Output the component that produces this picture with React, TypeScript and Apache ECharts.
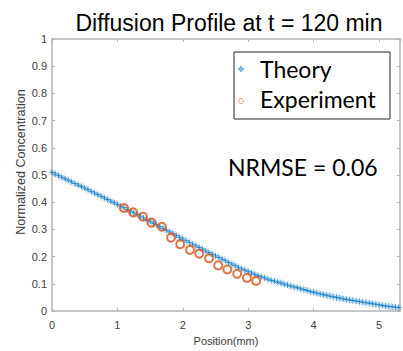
import React, { useEffect, useRef } from "react";
import * as echarts from "echarts";

const TITLE = "Diffusion Profile at t = 120 min";
const X_NAME = "Position(mm)";
const Y_NAME = "Normalized Concentration";
const NRMSE_TEXT = "NRMSE = 0.06";
const SERIES_NAMES = ["Theory", "Experiment"];

// theory curve, sampled every 0.05 mm from 0 to 5.30 mm
const THEORY_STEP = 0.05;
const theoryValues = [
  0.510, 0.504, 0.498, 0.492, 0.486, 0.481, 0.475, 0.469, 0.463, 0.458,
  0.452, 0.446, 0.440, 0.434, 0.428, 0.422, 0.416, 0.410, 0.404, 0.398,
  0.392, 0.386, 0.380, 0.373, 0.367, 0.361, 0.355, 0.349, 0.342, 0.336,
  0.330, 0.323, 0.317, 0.310, 0.304, 0.297, 0.291, 0.284, 0.278, 0.271,
  0.265, 0.259, 0.252, 0.246, 0.240, 0.234, 0.228, 0.221, 0.215, 0.209,
  0.203, 0.197, 0.191, 0.185, 0.179, 0.173, 0.167, 0.161, 0.155, 0.150,
  0.145, 0.140, 0.135, 0.130, 0.126, 0.122, 0.117, 0.113, 0.110, 0.106,
  0.103, 0.099, 0.096, 0.092, 0.089, 0.086, 0.082, 0.079, 0.076, 0.072,
  0.069, 0.066, 0.063, 0.060, 0.058, 0.055, 0.053, 0.050, 0.048, 0.045,
  0.043, 0.041, 0.039, 0.037, 0.035, 0.033, 0.031, 0.029, 0.027, 0.025,
  0.023, 0.021, 0.019, 0.017, 0.016, 0.014, 0.013,
];

const expX = [1.10, 1.24, 1.39, 1.52, 1.68, 1.82, 1.96, 2.11, 2.25, 2.40, 2.54, 2.68, 2.83, 2.98, 3.12];
const expY = [0.379, 0.363, 0.347, 0.325, 0.310, 0.270, 0.246, 0.225, 0.211, 0.194, 0.168, 0.153, 0.137, 0.122, 0.111];

const X_MIN = 0;
const X_MAX = 5.32;
const Y_MIN = 0;
const Y_MAX = 1;

const BLUE = "#0072BD";
const LIGHT_BLUE = "#8fc3ea";
const ORANGE = "#D95319";
const AXIS_COLOR = "#b4b4b4";
const LABEL_COLOR = "#404040";

const PLUS = "path://M5 0 L5 10 M0 5 L10 5";
const CROSS = "path://M1.5 1.5 L8.5 8.5 M1.5 8.5 L8.5 1.5";

export default function App() {
  const ref = useRef<HTMLDivElement>(null);
  useEffect(() => {
    if (!ref.current) return;
    const chart = echarts.init(ref.current, null, { renderer: "svg" });
    const theoryData = theoryValues.map((v, i) => [+(i * THEORY_STEP).toFixed(2), v]);
    const expData = expX.map((x, i) => [x, expY[i]]);
    const axisCommon = {
      axisLine: { show: true, onZero: false, lineStyle: { color: AXIS_COLOR, width: 1.5 } },
      axisTick: { show: true, inside: true, length: 3, lineStyle: { color: AXIS_COLOR } },
      splitLine: { show: false },
    };
    chart.setOption({
      animation: false,
      backgroundColor: "#ffffff",
      title: {
        text: TITLE,
        left: 224,
        top: 6,
        textAlign: "center",
        textStyle: { fontFamily: "Liberation Sans", fontSize: 23, fontWeight: "normal", color: "#000" },
      },
      grid: { left: 52, right: 3, top: 39, bottom: 38.5, containLabel: false },
      xAxis: [
        {
          type: "value",
          min: X_MIN,
          max: X_MAX,
          interval: 1,
          name: X_NAME,
          nameLocation: "middle",
          nameGap: 21,
          nameTextStyle: { fontFamily: "Liberation Sans", fontSize: 11, color: LABEL_COLOR },
          axisLabel: {
            showMaxLabel: false,
            margin: 8,
            fontFamily: "Liberation Sans",
            fontSize: 11,
            color: LABEL_COLOR,
          },
          ...axisCommon,
        },
        {
          type: "value",
          position: "top",
          min: X_MIN,
          max: X_MAX,
          interval: 1,
          axisLabel: { show: false },
          ...axisCommon,
        },
      ],
      yAxis: [
        {
          type: "value",
          min: Y_MIN,
          max: Y_MAX,
          interval: 0.1,
          axisLabel: {
            margin: 5,
            fontFamily: "Liberation Sans",
            fontSize: 11,
            color: LABEL_COLOR,
            formatter: (v: number) => String(+v.toFixed(1)),
          },
          ...axisCommon,
        },
        {
          type: "value",
          position: "right",
          min: Y_MIN,
          max: Y_MAX,
          interval: 0.1,
          axisLabel: { show: false },
          ...axisCommon,
        },
      ],
      series: [
        {
          name: SERIES_NAMES[0] + " (diagonal strokes)",
          type: "scatter",
          data: theoryData,
          symbol: CROSS,
          symbolSize: 6,
          itemStyle: { color: "transparent", borderColor: LIGHT_BLUE, borderWidth: 0.8 },
          z: 1,
        },
        {
          name: SERIES_NAMES[0],
          type: "scatter",
          data: theoryData,
          symbol: PLUS,
          symbolSize: 6,
          itemStyle: { color: "transparent", borderColor: BLUE, borderWidth: 0.9 },
          z: 2,
        },
        {
          name: SERIES_NAMES[1],
          type: "scatter",
          data: expData,
          symbol: "circle",
          symbolSize: 8,
          itemStyle: { color: "transparent", borderColor: ORANGE, borderWidth: 2 },
          z: 3,
        },
      ],
      graphic: [
        {
          type: "text",
          x: 21,
          y: 162,
          rotation: Math.PI / 2,
          style: {
            text: Y_NAME,
            fontFamily: "Liberation Sans",
            fontSize: 12.6,
            fill: LABEL_COLOR,
            textAlign: "center",
            textVerticalAlign: "middle",
          },
        },
        {
          type: "group",
          z: 100,
          children: [
            {
              type: "rect",
              shape: { x: 234, y: 52, width: 156, height: 67 },
              style: { fill: "#fff", stroke: "#262626", lineWidth: 1 },
            },
            { type: "line", shape: { x1: 241, y1: 66, x2: 241, y2: 72 }, style: { stroke: BLUE, lineWidth: 1 } },
            { type: "line", shape: { x1: 238, y1: 69, x2: 244, y2: 69 }, style: { stroke: BLUE, lineWidth: 1 } },
            { type: "line", shape: { x1: 239, y1: 67, x2: 243, y2: 71 }, style: { stroke: LIGHT_BLUE, lineWidth: 0.8 } },
            { type: "line", shape: { x1: 239, y1: 71, x2: 243, y2: 67 }, style: { stroke: LIGHT_BLUE, lineWidth: 0.8 } },
            { type: "circle", shape: { cx: 241, cy: 101, r: 2.5 }, style: { fill: "none", stroke: "#eb9a78", lineWidth: 1 } },
            {
              type: "text",
              x: 260,
              y: 69,
              style: { text: SERIES_NAMES[0], fontFamily: "Lato", fontSize: 23, fill: "#000", textVerticalAlign: "middle" },
            },
            {
              type: "text",
              x: 260,
              y: 99,
              style: { text: SERIES_NAMES[1], fontFamily: "Lato", fontSize: 23, fill: "#000", textVerticalAlign: "middle" },
            },
          ],
        },
        {
          type: "text",
          x: 228,
          y: 167,
          z: 100,
          style: { text: NRMSE_TEXT, fontFamily: "Lato", fontSize: 23, fill: "#000", textVerticalAlign: "middle" },
        },
      ],
    });
    return () => chart.dispose();
  }, []);
  return <div ref={ref} style={{ width: 403, height: 351, position: "absolute", left: 0, top: 0 }} />;
}
